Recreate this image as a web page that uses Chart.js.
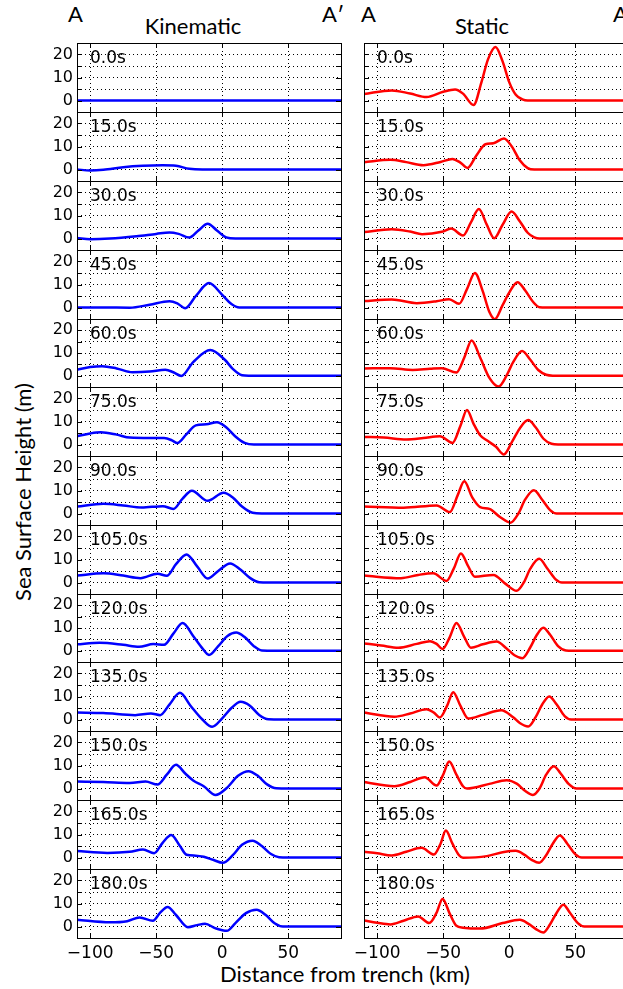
<!DOCTYPE html>
<html>
<head>
<meta charset="utf-8">
<script src="https://cdn.jsdelivr.net/npm/chart.js@4.4.0/dist/chart.umd.min.js"></script>
<style>
html, body { margin: 0; padding: 0; background: #fff; overflow: hidden; }
#fig { position: relative; width: 623px; height: 989px; overflow: hidden; }
#fig canvas { position: absolute; }
.lbl { position: absolute; font-family: Lato, sans-serif; font-size: 22px; line-height: 22px; color: #000; white-space: nowrap; }
.time { position: absolute; font-family: "DejaVu Sans", sans-serif; font-size: 17px; line-height: 17px; color: #000; white-space: nowrap; }
</style>
</head>
<body>
<div id="fig">
  <div class="lbl" style="left:68px;top:3px">A</div>
  <div class="lbl" style="left:322px;top:3px">A′</div>
  <div class="lbl" style="left:361px;top:3px">A</div>
  <div class="lbl" style="left:613px;top:3px">A′</div>
  <div class="lbl" style="left:193px;top:15px;transform:translateX(-50%)">Kinematic</div>
  <div class="lbl" style="left:482px;top:15px;transform:translateX(-50%)">Static</div>
  <div class="lbl" style="left:345px;top:963px;transform:translateX(-50%)">Distance from trench (km)</div>
  <div class="lbl" style="left:23px;top:492px;transform:translate(-50%,-50%) rotate(-90deg)">Sea Surface Height (m)</div>
</div>
<script>
// snapshot times, one row each
var times = ['0.0s', '15.0s', '30.0s', '45.0s', '60.0s', '75.0s', '90.0s',
             '105.0s', '120.0s', '135.0s', '150.0s', '165.0s', '180.0s'];

var xTicks = [-100, -50, 0, 50];
var yTicks = [-5, 0, 5, 10, 15, 20, 25];
var yLabels = [0, 10, 20];

// [distance km, height m]
var kinematic = [
  [[-110,0],[90,0]],
  [[-110,0],[-100,-0.4],[-90,-0.1],[-75,1],[-60,1.6],[-45,1.8],[-35,1.6],[-25,0.3],[-15,0],[90,0]],
  [[-110,0.2],[-100,-0.3],[-85,0],[-65,1],[-50,2],[-40,2.6],[-33,2],[-25,0.4],[-18,3.5],[-11,6.4],[-4,3.5],[3,0.5],[10,0],[90,0]],
  [[-110,0],[-90,0],[-70,-0.1],[-55,1.2],[-40,2.7],[-34,1.8],[-28,-0.3],[-20,5],[-10,10.6],[0,5.5],[7,1.5],[13,0],[90,0]],
  [[-110,2.6],[-100,3.8],[-91,4.2],[-80,3.2],[-68,1.5],[-55,1.8],[-43,2.6],[-37,1.5],[-31,-0.1],[-22,6],[-9,11.3],[2,7],[8,3],[15,0.2],[20,0],[90,0]],
  [[-110,3.6],[-100,4.8],[-92,5.3],[-80,4.3],[-70,3],[-55,2.8],[-44,2.8],[-38,1.8],[-34,0.6],[-27,4.5],[-20,8.3],[-12,8.8],[-4,9.7],[3,7.5],[10,3.5],[17,0.7],[24,0],[90,0]],
  [[-110,3],[-90,4.2],[-75,3.5],[-61,2.6],[-45,3.2],[-37,2],[-30,6.5],[-23,9.9],[-11,5.5],[1,9],[8,7],[15,3],[23,0.3],[30,0],[90,0]],
  [[-110,3],[-90,4],[-75,3],[-62,1.9],[-49,3.8],[-42,2.9],[-35,8],[-27,12.2],[-19,7],[-11,1.7],[-3,5],[6,8.3],[14,5.5],[21,2],[28,0.1],[35,0],[90,0]],
  [[-110,2.8],[-93,3.5],[-75,2.6],[-63,1.7],[-52,2.9],[-44,2.6],[-37,7.5],[-30,12.2],[-22,6.5],[-15,1],[-10,-1.9],[-3,2],[4,6.5],[10.6,8],[17,6],[24,2],[30,0.1],[40,0],[90,0]],
  [[-110,3],[-90,2.8],[-66,1.9],[-54,2.6],[-47,1.9],[-40,6.5],[-32,11.6],[-24,6],[-15,0],[-7.6,-3.2],[0,0.5],[7,5],[14,7.7],[21,6],[28,2],[35,0.1],[45,0],[90,0]],
  [[-110,3],[-90,2.8],[-70,2.4],[-58,3],[-49,1.7],[-42,6],[-35,10.3],[-28,6.5],[-22,3.5],[-14,1],[-5,-2.8],[3,0],[12,5.5],[20,7.5],[27,5.5],[34,1.8],[41,0.1],[50,0],[90,0]],
  [[-110,2.8],[-87,2],[-70,2.5],[-60,3.5],[-51.5,1.9],[-45,6.5],[-38.6,9.8],[-32,5],[-27,1.2],[-20,0.8],[-14,0.3],[-7,-1],[0.5,-2.3],[8,1],[15,5.5],[23,7.3],[30,5],[37,1.5],[43,0.1],[50,0],[90,0]],
  [[-110,2.9],[-85,1.8],[-72,2.3],[-62.6,3.9],[-52.5,2.5],[-47,6],[-41.4,8.5],[-35,5],[-26,-0.3],[-19,0.6],[-13,1.2],[-5,-0.8],[3.5,-1.9],[10,1.5],[18,5.8],[26,7.3],[33,5],[40,1.3],[46,0],[90,0]]
];

var staticWave = [
  [[-110,2.8],[-89,4.4],[-75,3],[-62.6,1.5],[-50,3.8],[-41,4.8],[-35,3],[-27,-2],[-21,8],[-16,18],[-10.4,23.3],[-5,17],[0,8],[5,2.5],[10,0.5],[14,0],[90,0]],
  [[-110,3.2],[-90,4.2],[-78,3.2],[-65,1.9],[-52,3.3],[-43,4.6],[-37,3],[-31.6,0.7],[-25,6],[-18,11],[-12,11.4],[-4,13.5],[2,10],[8,4],[14,0.6],[19,0],[90,0]],
  [[-110,2.8],[-89,4],[-75,3],[-66,1.9],[-51,2.9],[-44,4.3],[-35,1.3],[-29,7],[-23,12.8],[-17,6],[-11.4,0.1],[-5,6],[1.8,11.7],[8,7.5],[14,2.5],[19,0.5],[23,0],[90,0]],
  [[-110,2.8],[-89,3.5],[-70,1.9],[-55,2.7],[-45.5,3.6],[-38,1.6],[-32,8],[-26,15],[-20,7],[-15,-2],[-10.9,-5.2],[-5,1],[0,6.5],[6.3,11],[12,7.5],[18,2.5],[23,0.1],[28,0],[90,0]],
  [[-110,3.2],[-90,3.3],[-73,2.5],[-60,3],[-51,3.3],[-40,1.4],[-34,8],[-28.5,15.5],[-22,8],[-15,-1],[-8,-4.8],[-2,0],[3,6],[9.8,10.9],[16,7],[22,2.5],[28,0.4],[33,0],[90,0]],
  [[-110,3.3],[-95,3],[-78,2.2],[-65,2.8],[-52.5,3.6],[-43,0.7],[-37,8],[-32,15],[-27,9],[-22,4],[-17,1.8],[-10,-1],[-4,-4.3],[2,1],[8,7],[14.4,10.6],[20,7.5],[26,2.5],[32,0.3],[37,0],[90,0]],
  [[-110,3],[-80,2.5],[-55,3.5],[-45,0.6],[-39,8],[-34,14],[-28,7],[-22,2.8],[-15,2],[-7,-1.5],[1,-4],[7,0],[12,6],[18.7,10.1],[25,6],[31,1.5],[36,0],[90,0]],
  [[-110,3],[-82,1.9],[-69,3.3],[-57.6,4],[-47.5,0.7],[-42,6],[-36.6,12.6],[-31,7],[-26,2.5],[-12,3.3],[-3,-0.5],[5.6,-3.6],[11,0],[16,6],[22.7,10.3],[29,6],[35,1.5],[40,0],[90,0]],
  [[-110,3.2],[-97,2.3],[-84,1.3],[-70,3],[-60,4.2],[-55,3],[-50.5,0.7],[-45,6],[-40,12.2],[-34,6],[-29,1.3],[-20,2.8],[-9.6,4],[-2,1],[4,-2],[10,-3.3],[16,1.5],[21,7],[25.8,10.1],[31,7],[37,2],[43,0.1],[48,0],[90,0]],
  [[-110,3],[-87,1.2],[-75,2.6],[-62.6,4.5],[-57,3],[-52.5,0.9],[-47,6],[-42.4,11.9],[-37,6],[-31,0.4],[-20,2],[-6,4],[3,1],[8,-1.5],[14.4,-3],[20,1],[25,6.5],[30.3,10],[36,6.5],[42,1.5],[47,0],[90,0]],
  [[-110,2.8],[-87,1],[-75,2.8],[-64,4.9],[-55,1.3],[-50,6],[-45.5,11.7],[-40,6],[-35,1],[-32,0],[-15,2],[-2,3.6],[6,2],[12,-1],[18,-2.8],[23,0],[28,6],[33.8,9.7],[39,6.5],[45,2],[51,0],[90,0]],
  [[-110,2.5],[-100,1.8],[-89,0.9],[-78,2.5],[-66.4,4.2],[-57,1.3],[-52,6],[-48,11.7],[-43,6],[-38,1],[-35,-0.1],[-17,0.6],[-5,2.3],[5,2.9],[12,1],[17,-1],[22.7,-2.3],[28,1],[33,6],[38.4,9.6],[44,6],[50,1.5],[55,0],[90,0]],
  [[-110,2.6],[-100,1.6],[-90,0.9],[-80,2.5],[-69,4.4],[-60.6,1.5],[-55,6],[-50.5,12],[-45,5.5],[-40,0.3],[-35,-0.5],[-22,-0.9],[-5,1.5],[8,2.9],[15,1],[20,-1],[25.8,-2.6],[31,1],[36,6],[41,9.5],[46,6],[52,1.5],[57,0],[90,0]]
];

Chart.defaults.font.family = '"DejaVu Sans", sans-serif';
Chart.defaults.color = '#000';

var TOP = 43.3, PH = 68.8, PLOT_W = 264, XAXIS_H = 31;
var columns = [
  { left: 0, axisW: 77, color: '#0000ff', data: kinematic, yText: true },
  { left: 300, axisW: 64, color: '#ff0000', data: staticWave, yText: false }
];

function fmt(v) {
  return v < 0 ? '\u2212' + Math.abs(v) : String(v);
}

// box and inward tick marks, matplotlib style
var framePlugin = {
  id: 'frame',
  afterDraw: function(chart) {
    var ctx = chart.ctx, a = chart.chartArea, x = chart.scales.x, y = chart.scales.y;
    ctx.save();
    ctx.strokeStyle = '#000';
    ctx.lineWidth = 1;
    ctx.strokeRect(a.left + 0.5, a.top + 0.5, a.right - a.left, a.bottom - a.top);
    ctx.beginPath();
    yTicks.forEach(function(v) {
      var p = Math.round(y.getPixelForValue(v)) + 0.5;
      ctx.moveTo(a.left, p); ctx.lineTo(a.left + 5, p);
      ctx.moveTo(a.right, p); ctx.lineTo(a.right - 5, p);
    });
    xTicks.forEach(function(v) {
      var p = Math.round(x.getPixelForValue(v)) + 0.5;
      ctx.moveTo(p, a.top); ctx.lineTo(p, a.top + 5);
      ctx.moveTo(p, a.bottom + 1); ctx.lineTo(p, a.bottom - 4);
    });
    ctx.stroke();
    ctx.restore();
  }
};

var fig = document.getElementById('fig');

columns.forEach(function(col) {
  times.forEach(function(t, r) {
    var y0 = Math.round(TOP + PH * r), y1 = Math.round(TOP + PH * (r + 1));
    var last = r === times.length - 1;
    var w = col.axisW + PLOT_W + 1;
    var h = last ? (y1 - y0) + 1 + XAXIS_H : (y1 - y0) + 2;

    var c = document.createElement('canvas');
    c.width = w; c.height = h;
    c.style.left = col.left + 'px';
    c.style.top = (y0 - 1) + 'px';
    c.style.width = w + 'px'; c.style.height = h + 'px';
    fig.appendChild(c);

    var tl = document.createElement('div');
    tl.className = 'time';
    tl.textContent = t;
    tl.style.left = (col.left + col.axisW + 13) + 'px';
    tl.style.top = (y0 + 6) + 'px';
    fig.appendChild(tl);

    new Chart(c.getContext('2d'), {
      type: 'line',
      data: {
        datasets: [{
          data: col.data[r].map(function(p) { return { x: p[0], y: p[1] }; }),
          borderColor: col.color,
          borderWidth: 2.5,
          pointRadius: 0,
          fill: false,
          cubicInterpolationMode: 'monotone'
        }]
      },
      options: {
        responsive: false,
        animation: false,
        devicePixelRatio: 1,
        events: [],
        layout: { padding: { top: 1, bottom: last ? 0 : 1, left: 0, right: 1 } },
        plugins: { legend: { display: false }, tooltip: { enabled: false } },
        scales: {
          x: {
            type: 'linear',
            min: -110,
            max: 90,
            afterBuildTicks: function(s) { s.ticks = xTicks.map(function(v) { return { value: v }; }); },
            afterFit: function(s) { s.height = last ? XAXIS_H : 0; s.paddingLeft = 0; s.paddingRight = 0; },
            grid: { color: '#000', lineWidth: 1, drawTicks: false },
            border: { display: false, dash: [1, 3] },
            ticks: {
              display: last, autoSkip: false, maxRotation: 0, padding: 5,
              font: { size: 17 },
              callback: function(v) { return fmt(v); }
            }
          },
          y: {
            type: 'linear',
            min: -5,
            max: 25,
            afterBuildTicks: function(s) { s.ticks = yTicks.map(function(v) { return { value: v }; }); },
            afterFit: function(s) { s.width = col.axisW; s.paddingTop = 0; s.paddingBottom = 0; },
            grid: { color: '#000', lineWidth: 1, drawTicks: false },
            border: { display: false, dash: [1, 3] },
            ticks: {
              display: col.yText, autoSkip: false, padding: 4,
              font: { size: 16 },
              callback: function(v) { return yLabels.indexOf(v) >= 0 ? fmt(v) : ''; }
            }
          }
        }
      },
      plugins: [framePlugin]
    });
  });
});
</script>
</body>
</html>
